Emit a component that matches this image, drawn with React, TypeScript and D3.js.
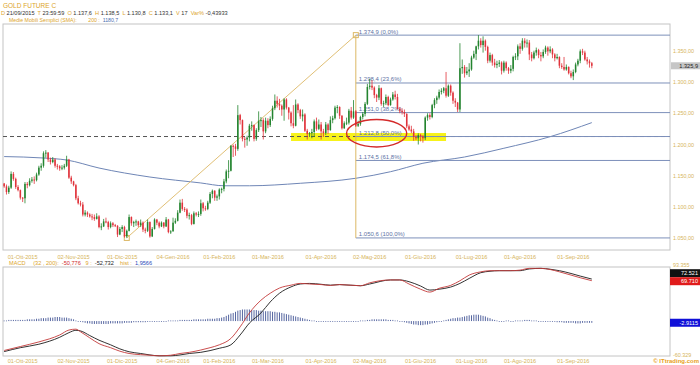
import * as d3 from 'd3'

// trading days shown on the chart (weekdays, market closed on Christmas / New Year)
const firstDay = '2015-09-21'
const lastDay = '2016-09-13'
const closedDays = ['2015-12-25', '2016-01-01']

const opens = [
  1137.6, 1133, 1124, 1131, 1153, 1145, 1132, 1127,
  1115, 1114, 1137, 1135, 1142, 1144, 1143, 1152, 1163, 1166, 1186, 1187, 1176, 1172, 1176, 1166, 1165, 1162, 1163, 1166, 1176, 1147,
  1141, 1135, 1114, 1106, 1104, 1088, 1091, 1088, 1085, 1084, 1081, 1085, 1068, 1069, 1077, 1076, 1068, 1074, 1071, 1070, 1056,
  1065, 1068, 1053, 1062, 1084, 1074, 1076, 1077, 1071, 1075, 1064, 1062, 1076, 1053, 1065, 1080, 1075, 1069, 1075, 1069, 1080, 1060,
  1061, 1075, 1078, 1091, 1107, 1097, 1096, 1086, 1087, 1073, 1090, 1088, 1089, 1106, 1098, 1097, 1107, 1121, 1126, 1115,
  1117, 1128, 1129, 1141, 1157, 1158, 1198, 1197, 1193, 1247, 1239, 1209, 1208, 1211, 1230, 1231, 1209, 1223, 1238, 1239, 1221,
  1238, 1231, 1241, 1258, 1270, 1265, 1262, 1256, 1272, 1259, 1251, 1234, 1230, 1264, 1255, 1245, 1248, 1222, 1217, 1218, 1220, 1237, 1225,
  1232, 1221, 1218, 1232, 1223, 1239, 1242, 1259, 1260, 1246, 1226, 1234, 1235, 1254, 1243, 1253, 1230, 1233, 1244, 1249, 1265,
  1292, 1294, 1291, 1279, 1275, 1290, 1265, 1266, 1276, 1263, 1272, 1280, 1276, 1257, 1254, 1252, 1249, 1229, 1224, 1221, 1212, 1210,
  1215, 1213, 1210, 1243, 1247, 1244, 1263, 1271, 1275, 1284, 1286, 1290, 1278, 1294, 1283, 1270, 1267, 1256, 1322, 1324, 1314, 1317,
  1320, 1339, 1345, 1357, 1366, 1359, 1366, 1356, 1334, 1343, 1331, 1327, 1329, 1331, 1318, 1331, 1322, 1318, 1321, 1340, 1341,
  1357, 1353, 1366, 1362, 1363, 1344, 1338, 1347, 1351, 1343, 1341, 1348, 1355, 1349, 1352, 1344, 1338, 1340, 1326, 1324, 1320, 1324, 1314,
  1309, 1316, 1328, 1334, 1349, 1347, 1336, 1333, 1330
]
const highs = [
  1138.5, 1136, 1134, 1157, 1156, 1147, 1135, 1128,
  1116, 1140, 1140, 1146, 1148, 1149, 1155, 1166, 1170, 1189, 1191, 1188, 1179, 1180, 1178, 1169, 1167, 1167, 1169, 1182, 1177, 1150,
  1142, 1137, 1118, 1110, 1108, 1095, 1093, 1090, 1089, 1088, 1090, 1087, 1074, 1081, 1083, 1078, 1077, 1076, 1073, 1071, 1068,
  1071, 1070, 1064, 1088, 1085, 1078, 1080, 1078, 1080, 1077, 1067, 1080, 1077, 1068, 1082, 1081, 1077, 1077, 1076, 1084, 1081, 1063,
  1083, 1082, 1095, 1112, 1113, 1100, 1098, 1091, 1089, 1093, 1092, 1093, 1112, 1108, 1102, 1110, 1124, 1128, 1127, 1120,
  1130, 1131, 1145, 1160, 1175, 1199, 1200, 1201, 1263, 1249, 1240, 1212, 1214, 1233, 1237, 1232, 1226, 1253, 1244, 1242, 1243,
  1242, 1245, 1262, 1280, 1277, 1273, 1264, 1274, 1274, 1260, 1253, 1263, 1272, 1266, 1257, 1256, 1250, 1225, 1220, 1225, 1240, 1243, 1240,
  1236, 1225, 1236, 1234, 1245, 1246, 1262, 1263, 1261, 1247, 1237, 1243, 1257, 1260, 1271, 1255, 1238, 1246, 1252, 1268, 1297,
  1305, 1303, 1293, 1281, 1295, 1291, 1270, 1280, 1278, 1275, 1284, 1286, 1281, 1260, 1258, 1256, 1250, 1232, 1230, 1225, 1215, 1218,
  1217, 1215, 1245, 1250, 1250, 1265, 1274, 1278, 1288, 1290, 1292, 1316, 1296, 1296, 1285, 1274, 1268, 1362, 1336, 1327, 1324, 1330,
  1342, 1350, 1358, 1375, 1370, 1373, 1368, 1358, 1347, 1345, 1337, 1334, 1335, 1333, 1334, 1333, 1324, 1327, 1342, 1346, 1360,
  1362, 1370, 1370, 1368, 1367, 1348, 1350, 1355, 1353, 1348, 1352, 1358, 1357, 1357, 1354, 1346, 1345, 1341, 1330, 1340, 1328, 1325, 1318,
  1320, 1331, 1337, 1352, 1353, 1350, 1340, 1336, 1332
]
const lows = [
  1130.8, 1120, 1121, 1129, 1142, 1129, 1125, 1112,
  1108, 1106, 1130, 1133, 1139, 1137, 1141, 1150, 1158, 1163, 1179, 1172, 1168, 1170, 1163, 1160, 1158, 1159, 1160, 1164, 1145, 1137,
  1133, 1111, 1104, 1101, 1085, 1085, 1084, 1083, 1079, 1078, 1080, 1066, 1063, 1068, 1074, 1064, 1066, 1068, 1068, 1052, 1055,
  1060, 1051, 1050.6, 1061, 1070, 1068, 1070, 1068, 1068, 1060, 1058, 1060, 1051, 1052, 1064, 1071, 1066, 1068, 1066, 1068, 1058, 1057,
  1061, 1073, 1077, 1090, 1094, 1092, 1082, 1080, 1071, 1072, 1085, 1084, 1086, 1093, 1094, 1095, 1105, 1114, 1110, 1110,
  1112, 1122, 1125, 1138, 1146, 1157, 1180, 1182, 1190, 1232, 1205, 1195, 1198, 1205, 1222, 1205, 1206, 1220, 1228, 1208, 1218,
  1226, 1228, 1238, 1255, 1259, 1255, 1246, 1238, 1256, 1240, 1229, 1226, 1229, 1250, 1241, 1237, 1220, 1208, 1212, 1210, 1212, 1222, 1223,
  1208, 1212, 1215, 1217, 1222, 1234, 1240, 1250, 1241, 1224, 1225, 1231, 1232, 1240, 1241, 1228, 1228, 1230, 1240, 1245, 1263,
  1288, 1287, 1274, 1268, 1271, 1262, 1260, 1263, 1261, 1262, 1270, 1272, 1256, 1250, 1248, 1244, 1226, 1222, 1218, 1206, 1207, 1200,
  1205, 1203, 1207, 1238, 1240, 1242, 1258, 1265, 1272, 1280, 1282, 1275, 1276, 1278, 1265, 1260, 1252, 1252, 1313, 1307, 1311, 1308,
  1318, 1337, 1335, 1352, 1355, 1347, 1350, 1330, 1331, 1326, 1323, 1322, 1324, 1312, 1315, 1318, 1313, 1314, 1317, 1335, 1335,
  1345, 1350, 1355, 1355, 1335, 1333, 1336, 1342, 1338, 1333, 1338, 1345, 1342, 1346, 1338, 1333, 1336, 1322, 1321, 1318, 1318, 1312, 1306,
  1303, 1314, 1325, 1330, 1343, 1334, 1328, 1323, 1322
]
const closes = [
  1133.1, 1124, 1131, 1153, 1145, 1132, 1127, 1115,
  1114, 1137, 1135, 1142, 1144, 1143, 1152, 1163, 1166, 1186, 1187, 1176, 1172, 1176, 1166, 1165, 1162, 1163, 1166, 1176, 1147, 1141,
  1135, 1114, 1106, 1104, 1088, 1091, 1088, 1085, 1084, 1081, 1085, 1068, 1069, 1077, 1076, 1068, 1074, 1071, 1070, 1056, 1065,
  1068, 1053, 1062, 1084, 1074, 1076, 1077, 1071, 1075, 1064, 1062, 1076, 1053, 1065, 1080, 1075, 1069, 1075, 1069, 1080, 1060, 1061,
  1075, 1078, 1091, 1107, 1097, 1096, 1086, 1087, 1073, 1090, 1088, 1089, 1106, 1098, 1097, 1107, 1121, 1126, 1115, 1117,
  1128, 1129, 1141, 1157, 1158, 1198, 1197, 1193, 1247, 1239, 1209, 1208, 1211, 1230, 1231, 1209, 1223, 1238, 1239, 1221, 1238,
  1231, 1241, 1258, 1270, 1265, 1262, 1256, 1272, 1259, 1251, 1234, 1230, 1264, 1255, 1245, 1248, 1222, 1217, 1218, 1220, 1237, 1225, 1232,
  1221, 1218, 1232, 1223, 1239, 1242, 1259, 1260, 1246, 1226, 1234, 1235, 1254, 1243, 1253, 1230, 1233, 1244, 1249, 1265, 1292,
  1294, 1291, 1279, 1275, 1290, 1265, 1266, 1276, 1263, 1272, 1280, 1276, 1257, 1254, 1252, 1249, 1229, 1224, 1221, 1212, 1210, 1215,
  1213, 1210, 1243, 1247, 1244, 1263, 1271, 1275, 1284, 1286, 1290, 1278, 1294, 1283, 1270, 1267, 1256, 1322, 1324, 1314, 1317, 1320,
  1339, 1345, 1357, 1366, 1359, 1366, 1356, 1334, 1343, 1331, 1327, 1329, 1331, 1318, 1331, 1322, 1318, 1321, 1340, 1341, 1357,
  1353, 1366, 1362, 1363, 1344, 1338, 1347, 1351, 1343, 1341, 1348, 1355, 1349, 1352, 1344, 1338, 1340, 1326, 1324, 1320, 1324, 1314, 1309,
  1316, 1328, 1334, 1349, 1347, 1336, 1333, 1330, 1325.9
]

// 200 day simple moving average, read at some bars
const smaBars = [0, 17, 27, 41, 63, 85, 95, 106, 128, 152, 167, 181, 199, 216, 236, 254]
const sma200 = [1180.7, 1178.4, 1175.2, 1162.4, 1148, 1138.5, 1134, 1134, 1138, 1146, 1156.5, 1170, 1180, 1194, 1212.5, 1235]

// MACD (32,200) and signal (9), read at some bars
const macdBars = [0, 7, 15, 24, 28, 31, 33, 37, 41, 46, 50, 54, 59, 63, 67, 72, 76, 80, 85, 89, 93, 98, 102, 106, 111, 115, 119, 124, 128, 132, 137, 141, 145, 154, 158, 167, 171, 175, 180, 184, 188, 193, 197, 201, 206, 210, 214, 219, 223, 227, 232, 236, 240, 245, 249, 254]
const macdLine = [-50.8, -44, -36, -24, -15.5, -14, -18.5, -29, -39, -46, -52, -56, -58, -59, -60, -59, -56, -54, -50, -46, -41, -30, -10, 14, 36, 48, 57, 62, 65, 64, 63, 61.5, 63, 61, 66, 71, 71, 64, 55, 50, 56.5, 61.6, 69.6, 79.4, 85, 87, 87, 87, 88, 91, 91, 89, 85, 79.4, 74.8, 69.7]
const signalLine = [-52.7, -46, -40, -28, -20, -16, -17, -25, -33, -41, -48, -53, -56, -58.5, -60, -60, -58.5, -56, -54, -51, -47, -41, -24, -3.5, 14, 33, 48, 59, 64, 65, 63.5, 62, 63, 61, 64, 71, 71, 68, 60.5, 53.5, 55, 58.7, 65, 73.6, 83.5, 86, 87, 87, 87, 90, 91, 89.5, 87, 82.2, 77.7, 72.5]
const histogram = [
  1, 1, 2, 2, 2, 2, 2, 2,
  2, 2, 3, 3, 3, 3, 4, 4, 5, 5, 5, 6, 6, 6, 7, 7, 7, 6, 6, 6, 5, 4,
  3, 1, 0, -1, -2, -3, -4, -4, -5, -5, -5, -5, -5, -5, -5, -5, -4, -4, -4, -4, -4,
  -4, -3, -3, -3, -3, -2, -2, -2, -2, -2, -2, -1, -1, -1, -1, -1, 0, 0, 0, 0, 1, 1,
  1, 1, 1, 2, 2, 2, 2, 2, 2, 3, 3, 3, 3, 3, 3, 4, 4, 4, 4, 5,
  5, 6, 7, 9, 11, 13, 14, 16, 18, 19, 20, 20, 20, 20, 19, 19, 19, 18, 18, 17, 17,
  17, 17, 16, 16, 15, 15, 14, 13, 12, 11, 10, 9, 8, 7, 6, 5, 4, 3, 2, 1, 1, 0, 0,
  0, 0, 0, -1, 0, 0, 0, 0, 0, 0, 0, 0, 0, 0, 0, 0, 0, 1, 1, 1, 2,
  2, 3, 3, 3, 3, 3, 3, 3, 2, 2, 2, 1, 1, 0, -1, -2, -3, -4, -5, -6, -6, -7,
  -7, -7, -6, -6, -5, -4, -3, -2, -1, 0, 1, 2, 3, 4, 5, 5, 6, 6, 7, 8, 9, 10,
  10, 11, 11, 11, 10, 9, 8, 6, 5, 3, 2, 1, 0, 0, 0, 1, 1, 0, 0, 1, 1,
  1, 1, 2, 2, 2, 1, 1, 1, 0, 0, 0, 0, 0, 0, -1, -1, -2, -2, -2, -3, -3, -3, -3,
  -3, -4, -4, -4, -3, -3, -3, -3, -3
]
// last values shown in the boxes on the right of the MACD panel
const lastSignalLabel = '72.521'
const lastMacdLabel = '69.710'
const lastHist = -2.9115
const macdScaleTop = 93.355
const macdScaleBottom = -60.329

const dateTicks = ['01-Ott-2015', '02-Nov-2015', '01-Dic-2015', '04-Gen-2016', '01-Feb-2016', '01-Mar-2016', '01-Apr-2016', '02-Mag-2016', '01-Giu-2016', '01-Lug-2016', '01-Ago-2016', '01-Sep-2016']
const priceTicks = [1050, 1100, 1150, 1200, 1250, 1300, 1350]

// fibonacci retracement drawn on the chart
const fibRatios = [0, 0.236, 0.382, 0.5, 0.618, 1]
const fibLow = 1050.6
const fibHigh = 1374.9
const fibFrom = '2015-12-03'
const fibTo = '2016-04-22'

// highlighted support zone and circled area
const zoneFrom = '2016-03-15'
const zoneTo = '2016-06-16'
const zoneLow = 1205.6
const zoneHigh = 1218.4
const circleDay = '2016-05-05'
const circlePrice = 1218
const circleBars = 13
const circleRange = 22

const FONT = 'Liberation Sans, Arial, sans-serif'
const GOLD = '#dca52a'
const AXIS = '#d6b45a'
const FIB = '#7d90ba'
const TAN = '#dcb865'

const itNum = d3.formatLocale({ decimal: ',', thousands: '.', grouping: [3], currency: ['', '€'] })
const fmt2 = itNum.format(',.2f')
const fmt1 = itNum.format(',.1f')
const pct = itNum.format('.1f')

const itTime = d3.timeFormatLocale({
  dateTime: '%A %e %B %Y, %X',
  date: '%d/%m/%Y',
  time: '%H:%M:%S',
  periods: ['AM', 'PM'],
  days: ['Domenica', 'Lunedì', 'Martedì', 'Mercoledì', 'Giovedì', 'Venerdì', 'Sabato'],
  shortDays: ['Dom', 'Lun', 'Mar', 'Mer', 'Gio', 'Ven', 'Sab'],
  months: ['Gennaio', 'Febbraio', 'Marzo', 'Aprile', 'Maggio', 'Giugno', 'Luglio', 'Agosto', 'Settembre', 'Ottobre', 'Novembre', 'Dicembre'],
  shortMonths: ['Gen', 'Feb', 'Mar', 'Apr', 'Mag', 'Giu', 'Lug', 'Ago', 'Sep', 'Ott', 'Nov', 'Dic']
})
const parseTick = itTime.parse('%d-%b-%Y')
const dayKey = d3.timeFormat('%Y-%m-%d')
const parseDay = d3.timeParse('%Y-%m-%d')

export default function App() {
  const n = closes.length
  const days = d3.timeDay
    .range(parseDay(firstDay), d3.timeDay.offset(parseDay(lastDay), 1))
    .filter(d => d.getDay() % 6 !== 0 && !closedDays.includes(dayKey(d)))
  const idx = new Map(days.map((d, i) => [dayKey(d), i]))
  const at = (key: string) => idx.get(key) ?? 0

  // panels
  const L = 3, R = 670
  const mTop = 24, mBot = 250
  const hTop = 267, hBot = 356

  const x = d3.scaleLinear().domain([-0.5, n - 0.5 + 33.3]).range([L, R])
  const y = d3.scaleLinear().domain([1031.3, 1392.7]).range([mBot, mTop])
  const my = d3.scaleLinear().domain([macdScaleBottom, macdScaleTop]).range([hBot, hTop])
  const bw = (x(1) - x(0)) * 0.66

  const smaPath = d3.line<number>()
    .x((_, k) => x(smaBars[k]))
    .y(v => y(v))
    .curve(d3.curveMonotoneX)(sma200)
  const macdPath = d3.line<number>()
    .x((_, k) => x(macdBars[k]))
    .y(v => my(v))
    .curve(d3.curveMonotoneX)

  const fx0 = x(at(fibFrom))
  const fx1 = x(at(fibTo))
  const fibLevels = fibRatios.map(r => ({ r, p: fibHigh - r * (fibHigh - fibLow) }))
  const lastClose = closes[n - 1]
  const lastMacd = macdLine[macdLine.length - 1]

  const tickX = (label: string) => {
    const d = parseTick(label)
    return d ? x(at(dayKey(d))) : 0
  }

  return (
    <svg width={700} height={365} style={{ position: 'absolute', left: 0, top: 0, background: '#fff' }}
      fontFamily={FONT}>
      {/* header */}
      <text x={3} y={8} fontSize={6.5} fill={GOLD}>GOLD FUTURE C</text>
      <text x={1} y={15} fontSize={5.6} fill="#333" xmlSpace="preserve">
        <tspan fill={GOLD}>D </tspan>21/09/2015  <tspan fill={GOLD}>T </tspan>23:59:59  <tspan fill={GOLD}>O </tspan>1.137,6  <tspan fill={GOLD}>H </tspan>1.138,5  <tspan fill={GOLD}>L </tspan>1.130,8  <tspan fill={GOLD}>C </tspan>1.133,1  <tspan fill={GOLD}>V </tspan>17  <tspan fill={GOLD}>Var% </tspan>-0,43933
      </text>
      <text x={9} y={21.5} fontSize={5.2} fill={GOLD} xmlSpace="preserve">
        Medie Mobili Semplici (SMA):        200 :  <tspan fill="#4a6fb0">1180,7</tspan>
      </text>

      {/* price panel */}
      <rect x={L} y={mTop} width={R - L} height={mBot - mTop} fill="#fff" stroke="#c4c4c4" strokeWidth={1} />
      <rect x={x(at(zoneFrom))} y={y(zoneHigh)} width={x(at(zoneTo)) - x(at(zoneFrom))} height={y(zoneLow) - y(zoneHigh)} fill="#f7f21a" />
      <path d={smaPath ?? ''} fill="none" stroke="#6f86b6" strokeWidth={1} />
      <line x1={L} x2={R} y1={y(fibLevels[3].p)} y2={y(fibLevels[3].p)} stroke="#555" strokeDasharray="4,3" strokeWidth={1} />
      {fibLevels.map(f => (
        <g key={f.r}>
          <line x1={fx1} x2={R} y1={y(f.p)} y2={y(f.p)} stroke={FIB} strokeWidth={1} />
          <text x={fx1 + 3} y={y(f.p) - 1.5} fontSize={6} fill="#5d72a4">
            {`${fmt1(f.p)} (${pct(f.r * 100)}%)`}
          </text>
        </g>
      ))}
      <line x1={fx1} x2={fx1} y1={y(fibHigh)} y2={y(fibLow)} stroke={TAN} strokeWidth={1} />
      <line x1={fx0} x2={fx1} y1={y(fibLow)} y2={y(fibHigh)} stroke={TAN} strokeWidth={0.9} />
      <rect x={fx0 - 2.5} y={y(fibLow) - 2.5} width={5} height={5} fill="none" stroke={TAN} />
      <rect x={fx1 - 2.5} y={y(fibHigh) - 2.5} width={5} height={5} fill="none" stroke={TAN} />

      {closes.map((c, i) => {
        const o = opens[i]
        const up = c >= o
        const col = up ? '#23842f' : '#e0333b'
        const cx = x(i)
        const top = y(Math.max(o, c))
        const h = Math.max(1, y(Math.min(o, c)) - top)
        return (
          <g key={i}>
            <line x1={cx} x2={cx} y1={y(highs[i])} y2={y(lows[i])} stroke={col} strokeWidth={0.8} />
            <rect x={cx - bw / 2} y={top} width={bw} height={h} fill={col} />
          </g>
        )
      })}

      <ellipse cx={x(at(circleDay))} cy={y(circlePrice)} rx={x(circleBars) - x(0)} ry={y(0) - y(circleRange)}
        fill="none" stroke="#d42a2a" strokeWidth={1.4} />

      {priceTicks.map(p => (
        <text key={p} x={R + 3} y={y(p) + 2} fontSize={5.4} fill={AXIS}>{fmt2(p)}</text>
      ))}
      <rect x={R + 1} y={y(lastClose) - 3.5} width={29} height={7} fill="#c6c6c6" />
      <text x={698} y={y(lastClose) + 2} fontSize={5.6} fill="#222" textAnchor="end">{fmt1(lastClose)}</text>

      {dateTicks.map(t => (
        <text key={t} x={tickX(t)} y={259} fontSize={5.6} fill={AXIS} textAnchor="middle">{t}</text>
      ))}

      {/* MACD panel */}
      <text x={9} y={264.5} fontSize={5.6} fill={GOLD} xmlSpace="preserve">
        MACD     (32 , 200):  <tspan fill="#d02a2a">-50,776</tspan>   9 :  <tspan fill="#222">-52,732</tspan>    hist :  <tspan fill="#2a4ab8">1,9566</tspan>
      </text>
      <rect x={L} y={hTop} width={R - L} height={hBot - hTop} fill="#fff" stroke="#c4c4c4" strokeWidth={1} />
      {histogram.map((v, i) => {
        const y0 = my(0)
        const y1 = my(v)
        const top = Math.min(y0, y1)
        return <rect key={i} x={x(i) - 0.5} y={top} width={1} height={Math.max(0.8, Math.abs(y1 - y0))} fill="#3a4c90" opacity={0.85} />
      })}
      <path d={macdPath(signalLine) ?? ''} fill="none" stroke="#1c1c1c" strokeWidth={0.9} />
      <path d={macdPath(macdLine) ?? ''} fill="none" stroke="#c43a3a" strokeWidth={0.9} />

      <text x={R + 3} y={hTop} fontSize={5.4} fill={AXIS}>{macdScaleTop.toFixed(3)}</text>
      <text x={R + 3} y={hBot + 1} fontSize={5.4} fill={AXIS}>{macdScaleBottom.toFixed(3)}</text>
      <rect x={R} y={my(lastMacd) - 11.5} width={30} height={8} fill="#111" />
      <text x={698} y={my(lastMacd) - 5.5} fontSize={5.6} fill="#fff" textAnchor="end">{lastSignalLabel}</text>
      <rect x={R} y={my(lastMacd) - 3.5} width={30} height={8} fill="#e01b1b" />
      <text x={698} y={my(lastMacd) + 2.5} fontSize={5.6} fill="#fff" textAnchor="end">{lastMacdLabel}</text>
      <rect x={R} y={my(lastHist) - 4} width={30} height={8} fill="#1010d8" />
      <text x={698} y={my(lastHist) + 2} fontSize={5.6} fill="#fff" textAnchor="end">{lastHist.toFixed(4)}</text>

      {dateTicks.map(t => (
        <text key={'m' + t} x={tickX(t)} y={363} fontSize={5.6} fill={AXIS} textAnchor="middle">{t}</text>
      ))}
      <text x={699} y={363} fontSize={6} fill="#e8a020" fontWeight="bold" textAnchor="end">© ITtrading.com</text>
    </svg>
  )
}
